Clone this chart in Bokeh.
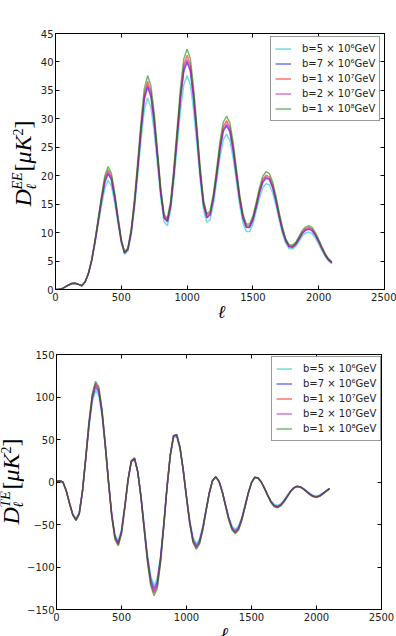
import math
from bokeh.plotting import figure
from bokeh.models import Range1d, FixedTicker, LinearAxis, Legend, LegendItem
from bokeh.layouts import column, row
from bokeh.core.properties import value
from bokeh.embed import file_html
from bokeh.resources import INLINE

# multipole sample positions
ell = [2] + list(range(25, 2101, 25))

series_labels = ["b=5 × 10⁶GeV", "b=7 × 10⁶GeV", "b=1 × 10⁷GeV", "b=2 × 10⁷GeV", "b=1 × 10⁸GeV"]
series_colors = ["#00bfbf", "#0000ff", "#ff0000", "#bf00bf", "#008000"]

# ---------------- EE spectrum D_l^EE [muK^2] ----------------
ee_b5e6 = [0.0, 0.05, 0.15, 0.45, 0.8, 1.05, 1.1, 0.9, 0.65, 1.3,
           2.75, 5.0, 8.1, 11.5, 14.85, 17.8, 19.2, 18.2, 15.2, 11.6,
           8.2, 6.2, 6.8, 9.6, 14.2, 20.1, 26.4, 31.6, 33.7, 32.0,
           27.7, 21.9, 16.0, 11.9, 11.2, 13.9, 19.1, 25.4, 31.6, 36.0,
           37.6, 36.0, 31.4, 25.4, 19.0, 14.0, 11.8, 12.3, 15.0, 19.1,
           23.3, 26.3, 27.3, 26.2, 23.1, 19.0, 14.8, 11.7, 10.2, 10.2,
           11.5, 13.8, 16.1, 17.9, 18.6, 18.4, 17.0, 14.8, 12.2, 9.8,
           8.1, 7.2, 7.1, 7.6, 8.4, 9.4, 9.9, 10.1, 9.8, 9.0,
           8.0, 6.8, 5.8, 5.0, 4.5]
ee_b7e6 = [0.0, 0.05, 0.15, 0.45, 0.8, 1.05, 1.1, 0.9, 0.65, 1.3,
           2.8, 5.1, 8.3, 12.0, 15.7, 18.8, 20.3, 19.2, 16.1, 12.2,
           8.4, 6.4, 7.0, 10.0, 15.0, 21.3, 27.9, 33.4, 35.6, 33.9,
           29.4, 23.2, 16.9, 12.6, 11.9, 14.7, 20.3, 27.0, 33.6, 38.3,
           40.0, 38.3, 33.4, 27.0, 20.1, 14.9, 12.6, 13.1, 16.0, 20.1,
           24.6, 27.8, 28.8, 27.7, 24.4, 20.0, 15.7, 12.5, 10.9, 10.9,
           12.2, 14.5, 17.0, 18.8, 19.6, 19.3, 17.9, 15.5, 12.8, 10.3,
           8.5, 7.5, 7.4, 7.9, 8.8, 9.8, 10.4, 10.6, 10.3, 9.5,
           8.4, 7.2, 6.0, 5.2, 4.7]
ee_b1e7 = [0.0, 0.05, 0.15, 0.45, 0.8, 1.05, 1.1, 0.9, 0.65, 1.3,
           2.8, 5.2, 8.5, 12.3, 16.1, 19.5, 21.0, 19.8, 16.6, 12.5,
           8.6, 6.5, 7.2, 10.3, 15.4, 21.9, 28.7, 34.3, 36.6, 34.8,
           30.2, 23.8, 17.4, 12.9, 12.2, 15.1, 20.9, 27.7, 34.5, 39.4,
           41.2, 39.4, 34.3, 27.7, 20.7, 15.3, 13.0, 13.5, 16.4, 20.7,
           25.3, 28.6, 29.7, 28.5, 25.1, 20.6, 16.2, 12.9, 11.2, 11.2,
           12.6, 14.9, 17.4, 19.4, 20.1, 19.8, 18.4, 16.0, 13.1, 10.6,
           8.7, 7.7, 7.6, 8.1, 9.1, 10.1, 10.7, 10.9, 10.6, 9.7,
           8.6, 7.3, 6.1, 5.3, 4.8]
ee_b2e7 = [0.0, 0.05, 0.15, 0.45, 0.8, 1.05, 1.1, 0.9, 0.65, 1.3,
           2.8, 5.1, 8.4, 12.1, 15.9, 19.1, 20.6, 19.5, 16.3, 12.3,
           8.5, 6.4, 7.1, 10.1, 15.1, 21.5, 28.2, 33.7, 35.9, 34.2,
           29.6, 23.4, 17.0, 12.7, 12.0, 14.8, 20.5, 27.2, 33.9, 38.7,
           40.4, 38.7, 33.7, 27.2, 20.3, 15.0, 12.7, 13.2, 16.1, 20.3,
           24.8, 28.1, 29.1, 28.0, 24.6, 20.2, 15.9, 12.6, 11.0, 11.0,
           12.3, 14.6, 17.1, 19.0, 19.8, 19.5, 18.0, 15.7, 12.9, 10.4,
           8.6, 7.6, 7.5, 8.0, 8.9, 9.9, 10.5, 10.7, 10.4, 9.6,
           8.4, 7.2, 6.1, 5.2, 4.7]
ee_b1e8 = [0.0, 0.05, 0.15, 0.45, 0.8, 1.05, 1.1, 0.9, 0.65, 1.3,
           2.8, 5.2, 8.6, 12.5, 16.5, 20.0, 21.6, 20.4, 17.0, 12.8,
           8.8, 6.6, 7.3, 10.5, 15.8, 22.5, 29.5, 35.3, 37.6, 35.8,
           31.0, 24.5, 17.8, 13.2, 12.5, 15.5, 21.5, 28.5, 35.5, 40.5,
           42.3, 40.5, 35.3, 28.5, 21.3, 15.7, 13.3, 13.8, 16.8, 21.3,
           26.0, 29.4, 30.5, 29.3, 25.8, 21.2, 16.6, 13.2, 11.5, 11.5,
           12.9, 15.3, 17.9, 19.9, 20.7, 20.4, 18.9, 16.4, 13.5, 10.9,
           8.9, 7.9, 7.8, 8.3, 9.3, 10.4, 11.0, 11.2, 10.9, 10.0,
           8.8, 7.5, 6.3, 5.4, 4.9]

# ---------------- TE spectrum D_l^TE [muK^2] ----------------
te_b5e6 = [0.8, 1.5, -0.3, -10.2, -24.4, -37.2, -43.1, -35.9, -10.3, 26.7,
           64.6, 94.3, 107.8, 102.0, 78.2, 41.3, 0.1, -37.4, -62.3, -69.2,
           -56.0, -28.5, 2.0, 23.5, 26.7, 11.7, -16.8, -52.0, -86.1, -111.0,
           -121.6, -113.7, -87.1, -48.5, -6.2, 30.0, 52.0, 53.2, 39.0, 13.3,
           -17.1, -45.2, -65.3, -72.5, -67.0, -52.2, -32.1, -12.4, 1.5, 5.9,
           0.8, -10.8, -26.0, -40.9, -51.7, -55.7, -51.9, -41.7, -27.3, -12.5,
           -0.7, 5.3, 4.6, 0.0, -7.0, -14.9, -22.0, -26.4, -27.4, -25.4,
           -21.3, -15.9, -10.6, -6.6, -4.9, -5.5, -7.7, -10.7, -13.7, -15.9,
           -16.6, -15.3, -12.8, -10.1, -7.4]
te_b7e6 = [0.8, 1.5, -0.3, -10.3, -24.9, -38.1, -44.2, -36.8, -10.5, 27.6,
           67.1, 97.9, 112.0, 105.9, 81.2, 42.9, 0.1, -38.6, -64.3, -71.4,
           -57.9, -29.5, 2.1, 23.9, 27.3, 11.9, -17.4, -54.0, -89.0, -114.7,
           -125.4, -117.3, -89.8, -50.0, -6.3, 31.3, 53.6, 54.9, 40.2, 13.7,
           -17.7, -46.9, -67.8, -75.2, -69.5, -54.2, -33.3, -12.9, 1.5, 6.0,
           0.8, -11.2, -27.0, -42.5, -53.7, -57.8, -53.9, -43.2, -28.3, -12.9,
           -0.8, 5.4, 4.7, 0.0, -7.3, -15.6, -23.0, -27.7, -28.8, -26.7,
           -22.3, -16.6, -11.0, -6.9, -5.1, -5.7, -8.0, -11.1, -14.3, -16.5,
           -17.3, -16.0, -13.3, -10.5, -7.6]
te_b1e7 = [0.8, 1.5, -0.3, -10.4, -25.2, -38.7, -45.0, -37.5, -10.7, 28.6,
           69.6, 101.5, 116.1, 109.9, 84.2, 44.5, 0.1, -39.9, -66.3, -73.7,
           -59.7, -30.4, 2.2, 24.6, 28.1, 12.2, -17.9, -56.0, -92.4, -119.4,
           -130.6, -122.1, -93.4, -51.8, -6.6, 31.5, 54.3, 55.6, 40.7, 13.9,
           -18.2, -48.4, -70.0, -77.6, -71.7, -55.9, -34.4, -13.3, 1.6, 6.1,
           0.8, -11.6, -27.8, -43.8, -55.4, -59.6, -55.6, -44.6, -29.2, -13.3,
           -0.8, 5.5, 4.7, 0.0, -7.5, -16.1, -23.7, -28.6, -29.7, -27.5,
           -23.0, -17.2, -11.4, -7.1, -5.2, -5.9, -8.2, -11.5, -14.7, -17.1,
           -17.8, -16.5, -13.7, -10.8, -7.8]
te_b2e7 = [0.8, 1.5, -0.3, -10.4, -25.0, -38.4, -44.7, -37.2, -10.6, 28.2,
           68.7, 100.1, 114.5, 108.2, 83.0, 43.9, 0.1, -39.4, -65.5, -72.8,
           -59.0, -30.0, 2.1, 24.4, 27.9, 12.1, -17.7, -55.2, -91.2, -117.6,
           -128.5, -120.2, -91.9, -51.2, -6.5, 31.3, 54.2, 55.5, 40.6, 13.9,
           -18.0, -47.8, -69.1, -76.8, -71.0, -55.3, -34.0, -13.2, 1.6, 6.1,
           0.8, -11.4, -27.5, -43.3, -54.8, -59.0, -55.0, -44.1, -28.9, -13.2,
           -0.8, 5.5, 4.7, 0.0, -7.5, -15.9, -23.5, -28.3, -29.4, -27.3,
           -22.8, -17.0, -11.3, -7.0, -5.2, -5.8, -8.2, -11.4, -14.6, -16.9,
           -17.7, -16.3, -13.6, -10.7, -7.8]
te_b1e8 = [0.8, 1.5, -0.3, -10.4, -25.4, -39.0, -45.4, -37.8, -10.8, 29.0,
           71.0, 103.6, 118.5, 112.1, 85.9, 45.4, 0.1, -40.7, -67.7, -75.2,
           -60.9, -31.0, 2.2, 25.0, 28.4, 12.4, -18.3, -57.1, -94.6, -122.2,
           -133.9, -125.2, -95.8, -53.1, -6.7, 31.9, 54.7, 56.0, 41.0, 14.0,
           -18.6, -49.4, -71.4, -79.2, -73.2, -57.0, -35.1, -13.6, 1.6, 6.2,
           0.8, -11.8, -28.4, -44.7, -56.5, -60.8, -56.7, -45.5, -29.8, -13.6,
           -0.8, 5.6, 4.8, 0.0, -7.7, -16.4, -24.2, -29.2, -30.3, -28.1,
           -23.5, -17.5, -11.6, -7.2, -5.3, -6.0, -8.4, -11.7, -15.0, -17.4,
           -18.2, -16.8, -14.0, -11.0, -8.0]

x_ticks = [0, 500, 1000, 1500, 2000, 2500]
ee_ticks = [0, 5, 10, 15, 20, 25, 30, 35, 40, 45]
te_ticks = [-150, -100, -50, 0, 50, 100, 150]
te_tick_labels = {-150: "\u2212150", -100: "\u2212100", -50: "\u221250"}

TICK_FONT = "DejaVu Sans"
MATH_FONT = "Liberation Serif"
BLOCK_H = 318
MID = 0.33  # distance (in em) from baseline to the middle of the em box


def style_axis(ax, labels=True):
    ax.axis_line_color = "black"
    ax.axis_line_width = 1
    ax.major_tick_in = 4
    ax.major_tick_out = 0
    ax.major_tick_line_color = "black"
    ax.minor_tick_line_color = None
    ax.major_label_text_font = TICK_FONT
    if labels:
        ax.major_label_text_color = "#222222"
        ax.major_label_text_font_size = "10px"
    else:
        ax.major_label_text_color = None
        ax.major_label_text_font_size = "1px"
        ax.major_label_standoff = 0


def blank_fig(w, h):
    f = figure(width=w, height=h, x_range=Range1d(0, w), y_range=Range1d(0, h),
               output_backend="svg", toolbar_location=None, title=None,
               x_axis_location=None, y_axis_location=None,
               min_border_left=0, min_border_right=0, min_border_top=0, min_border_bottom=0)
    f.xgrid.visible = False
    f.ygrid.visible = False
    f.outline_line_color = None
    f.background_fill_color = "white"
    f.border_fill_color = "white"
    return f


def put_text(f, x, y, t, size, style, angle=0.0, align="left"):
    f.text(x=[x], y=[y], text=[t], angle=angle, text_font=value(MATH_FONT),
           text_font_style=style, text_font_size=value(f"{size}px"), text_color="black",
           text_align=align, text_baseline="middle")


def ylabel_fig(w, bx, sup, sub_dx, sup_dx):
    f = blank_fig(w, BLOCK_H)
    # (text, baseline offset, start position from block top, size, style)
    parts = [
        ("D", 0, 206, 24, "italic"),
        ("ℓ", sub_dx, 189, 14, "italic"),
        (sup, sup_dx, 189, 14, "italic"),
        ("[", 0, 171, 24, "normal"),
        ("μK", 0, 163, 24, "italic"),
        ("2", sup_dx, 135, 14, "normal"),
        ("]", 0, 128, 24, "normal"),
    ]
    for t, dx, ay, fs, st in parts:
        # rotated text: the middle of the em box sits MID*size left of the baseline
        put_text(f, bx + dx - MID * fs, BLOCK_H - ay, t, fs, st, angle=math.pi / 2)
    return f


def xlabel_fig(w, h, cx, base_from_top):
    f = blank_fig(w, h)
    put_text(f, cx, h - base_from_top + MID * 18, "ℓ", 18, "italic", align="center")
    return f


def main_fig(w, h, data, y_lo, y_hi, yticks, yoverrides, L, R, T, Bm):
    p = figure(width=w, height=h, x_range=Range1d(0, 2500), y_range=Range1d(y_lo, y_hi),
               output_backend="svg", toolbar_location=None, title=None,
               min_border_left=L, min_border_right=R, min_border_top=T, min_border_bottom=Bm)
    p.xgrid.visible = False
    p.ygrid.visible = False
    p.outline_line_color = "black"
    p.outline_line_width = 1
    p.background_fill_color = "white"
    p.border_fill_color = "white"

    p.xaxis.ticker = FixedTicker(ticks=x_ticks)
    p.yaxis.ticker = FixedTicker(ticks=yticks)
    if yoverrides:
        p.yaxis.major_label_overrides = yoverrides
    style_axis(p.xaxis[0])
    style_axis(p.yaxis[0])
    p.xaxis.major_label_standoff = 3
    p.yaxis.major_label_standoff = 2

    top_ax = LinearAxis(ticker=FixedTicker(ticks=x_ticks))
    style_axis(top_ax, labels=False)
    p.add_layout(top_ax, "above")
    right_ax = LinearAxis(ticker=FixedTicker(ticks=yticks))
    style_axis(right_ax, labels=False)
    p.add_layout(right_ax, "right")

    items = []
    for ys, col, lab in zip(data, series_colors, series_labels):
        r = p.line(ell, ys, line_color=col, line_alpha=0.55, line_width=1.5)
        items.append(LegendItem(label=lab, renderers=[r]))

    legend = Legend(items=items, location=(215, 168))
    legend.label_text_font = TICK_FONT
    legend.label_text_font_size = "10px"
    legend.label_text_color = "#222222"
    legend.glyph_width = 16
    legend.glyph_height = 15
    legend.label_height = 15
    legend.label_standoff = 11
    legend.spacing = 0
    legend.padding = 4
    legend.margin = 0
    legend.border_line_color = "#333333"
    legend.border_line_width = 1
    legend.background_fill_alpha = 1
    p.add_layout(legend)
    return p


# ---- top panel (EE): frame x 55..384, y 33..289 ----
yl_top_w = 37
main_top = main_fig(396 - yl_top_w, 305, [ee_b5e6, ee_b7e6, ee_b1e7, ee_b2e7, ee_b1e8],
                    0, 45, ee_ticks, None, 55 - yl_top_w, 12, 33, 16)
top_block = row(ylabel_fig(yl_top_w, 30, "EE", 6, -8),
                column(main_top, xlabel_fig(396 - yl_top_w, 13, 218 - yl_top_w, 12), spacing=0),
                spacing=0)

# ---- bottom panel (TE): frame x 52..381, y 354..609 ----
yl_bot_w = 24
main_bot = main_fig(396 - yl_bot_w, 307, [te_b5e6, te_b7e6, te_b1e7, te_b2e7, te_b1e8],
                    -150, 150, te_ticks, te_tick_labels, 53 - yl_bot_w, 15, 36, 16)
bot_block = row(ylabel_fig(yl_bot_w, 18, "TE", 5, -8),
                column(main_bot, xlabel_fig(396 - yl_bot_w, 11, 216 - yl_bot_w, 13), spacing=0),
                spacing=0)

layout = column(top_block, bot_block, spacing=0)
open("out.html", "w").write(file_html(layout, INLINE))
